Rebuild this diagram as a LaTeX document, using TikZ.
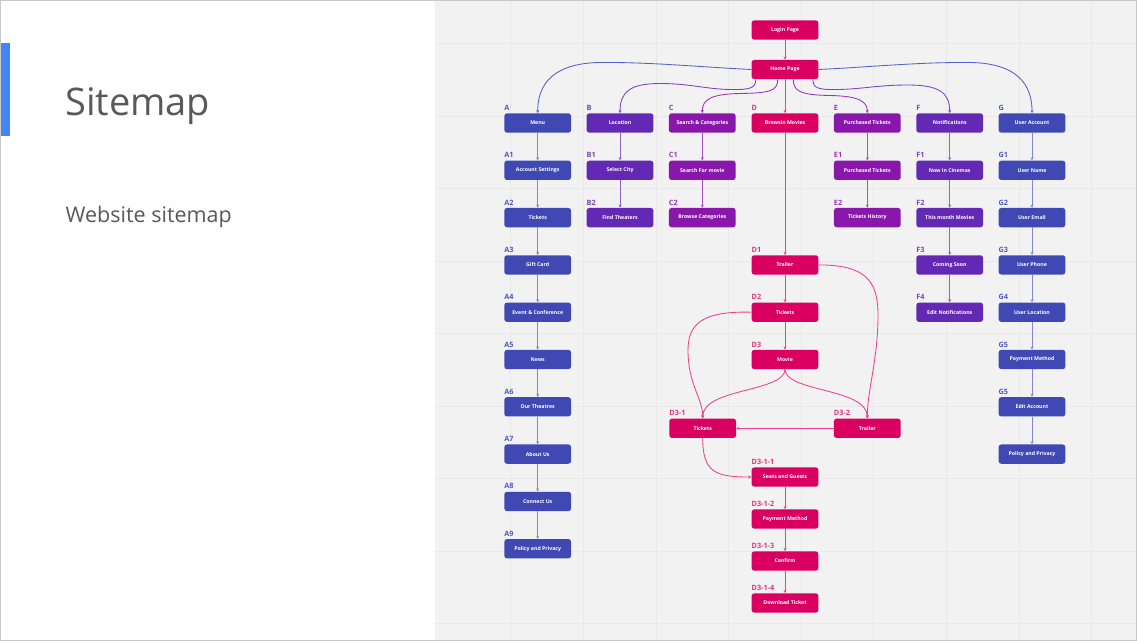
\documentclass[tikz,border=0pt]{standalone}
\usepackage{fontspec}
\setmainfont{Open Sans}
\usetikzlibrary{arrows.meta}
\definecolor{bgG}{HTML}{F2F2F2}
\definecolor{gridC}{HTML}{E8E8E8}
\definecolor{frameC}{HTML}{C8C8C8}
\definecolor{barC}{HTML}{4285F4}
\definecolor{titleC}{HTML}{595959}
\definecolor{cInd}{HTML}{4049B3}
\definecolor{cVio}{HTML}{6429B4}
\definecolor{cPur}{HTML}{8A17AC}
\definecolor{cPnk}{HTML}{D90062}
\definecolor{cIndL}{HTML}{5158BE}
\definecolor{cVioL}{HTML}{7A44C4}
\definecolor{cPurL}{HTML}{9A38BD}
\definecolor{cPnkL}{HTML}{E0357C}
\definecolor{cIndE}{HTML}{8087D2}
\definecolor{cVioE}{HTML}{8D62CC}
\definecolor{cPurE}{HTML}{A650C3}
\definecolor{cPnkE}{HTML}{EE3F8A}
\definecolor{tIndE}{HTML}{5560C6}
\definecolor{tVioE}{HTML}{7B3FC9}
\definecolor{tPurE}{HTML}{A02DC0}
\newcommand{\mkbox}[6]{%
  \node[box,fill=#1] (#2) at (#3,#4) {#5};
  \node[lbl,text=#1L] (#2-l) at (#2.north west) {#6};}
\begin{document}
\begin{tikzpicture}[x=1pt,y=-1pt,
  box/.style={rounded corners=2.6pt, minimum width=66.7pt, minimum height=19.3pt,
    inner sep=0pt, text=white, font=\fontsize{5.2}{6}\selectfont\bfseries},
  lbl/.style={anchor=base west, yshift=2.6pt, inner sep=0pt,
    font=\fontsize{7.3}{8}\selectfont\bfseries},
  arr/.style={-{Stealth[length=3.2pt,width=3pt]}, line width=0.85pt},
  gridline/.style={gridC, line width=0.6pt}]
\useasboundingbox (0,0) rectangle (1137,641);
\fill[white] (0,0) rectangle (1137,641);
\fill[bgG] (434.5,0) rectangle (1137,641);
\foreach \gx in {510.7,583.3,655.9,728.5,801.1,873.7,946.3,1018.9,1091.5}
  \draw[gridline] (\gx,0) -- (\gx,641);
\foreach \gy in {43.3,115.8,188.3,260.8,333.3,405.8,478.3,550.8,623.3}
  \draw[gridline] (434.5,\gy) -- (1137,\gy);
\draw[frameC, line width=1pt] (0.5,0.5) rectangle (1136.5,640.5);
\fill[barC] (1,43) rectangle (9.7,136);
\node[anchor=base west, inner sep=0pt, text=titleC, font=\fontsize{38}{44}\selectfont] (title) at (65,115.5) {Sitemap};
\node[anchor=base west, inner sep=0pt, text=titleC, font=\fontsize{21.5}{25}\selectfont] (subtitle) at (65.5,222.5) {Website sitemap};

% top nodes
\node[box,fill=cPnk] (login) at (785,30) {Login Page};
\node[box,fill=cPnk] (home) at (785,69.5) {Home Page};

% column A
\mkbox{cInd}{a0}{537.7}{123}{Menu}{A}
\mkbox{cInd}{a1}{537.7}{170.3}{Account Settings}{A1}
\mkbox{cInd}{a2}{537.7}{217.6}{Tickets}{A2}
\mkbox{cInd}{a3}{537.7}{264.9}{Gift Card}{A3}
\mkbox{cInd}{a4}{537.7}{312.2}{Event \& Conference}{A4}
\mkbox{cInd}{a5}{537.7}{359.5}{News}{A5}
\mkbox{cInd}{a6}{537.7}{406.8}{Our Theatres}{A6}
\mkbox{cInd}{a7}{537.7}{454.1}{About Us}{A7}
\mkbox{cInd}{a8}{537.7}{501.4}{Connect Us}{A8}
\mkbox{cInd}{a9}{537.7}{548.7}{Policy and Privacy}{A9}
% column B
\mkbox{cVio}{b0}{620}{123}{Location}{B}
\mkbox{cVio}{b1}{620}{170.3}{Select City}{B1}
\mkbox{cVio}{b2}{620}{217.6}{Find Theaters}{B2}
% column C
\mkbox{cPur}{c0}{702.3}{123}{Search \& Categories}{C}
\mkbox{cPur}{c1}{702.3}{170.3}{Search For movie}{C1}
\mkbox{cPur}{c2}{702.3}{217.6}{Browse Categories}{C2}
% column D
\mkbox{cPnk}{d0}{785}{123}{Browsin Movies}{D}
\mkbox{cPnk}{d1}{785}{264.9}{Trailer}{D1}
\mkbox{cPnk}{d2}{785}{312.2}{Tickets}{D2}
\mkbox{cPnk}{d3}{785}{359.5}{Movie}{D3}
\mkbox{cPnk}{d31}{702.7}{428.3}{Tickets}{D3-1}
\mkbox{cPnk}{d32}{867.3}{428.3}{Trailer}{D3-2}
\mkbox{cPnk}{d311}{785}{477}{Seats and Guests}{D3-1-1}
\mkbox{cPnk}{d312}{785}{519}{Payment Method}{D3-1-2}
\mkbox{cPnk}{d313}{785}{561}{Confirm}{D3-1-3}
\mkbox{cPnk}{d314}{785}{603}{Download Ticket}{D3-1-4}
% column E
\mkbox{cPur}{e0}{867.3}{123}{Purchased Tickets}{E}
\mkbox{cPur}{e1}{867.3}{170.3}{Purchased Tickets}{E1}
\mkbox{cPur}{e2}{867.3}{217.6}{Tickets History}{E2}
% column F
\mkbox{cVio}{f0}{949.7}{123}{Notifications}{F}
\mkbox{cVio}{f1}{949.7}{170.3}{Now in Cinemas}{F1}
\mkbox{cVio}{f2}{949.7}{217.6}{This month Movies}{F2}
\mkbox{cVio}{f3}{949.7}{264.9}{Coming Soon}{F3}
\mkbox{cVio}{f4}{949.7}{312.2}{Edit Notifications}{F4}
% column G
\mkbox{cInd}{g0}{1032}{123}{User Account}{G}
\mkbox{cInd}{g1}{1032}{170.3}{User Name}{G1}
\mkbox{cInd}{g2}{1032}{217.6}{User Email}{G2}
\mkbox{cInd}{g3}{1032}{264.9}{User Phone}{G3}
\mkbox{cInd}{g4}{1032}{312.2}{User Location}{G4}
\mkbox{cInd}{g5}{1032}{359.5}{Payment Method}{G5}
\mkbox{cInd}{g6}{1032}{406.8}{Edit Account}{G5}
\node[box,fill=cInd] (g7) at (1032,454.1) {Policy and Privacy};

% top connectors
\draw[arr,cPnkE] (login) -- (home);
\draw[arr,cPnkE] (home) -- (d0);
\draw[arr,tIndE] (home.west) .. controls (700,67) and (650,62) .. (600,62.5)
  .. controls (565,63) and (537.7,75) .. (a0.north);
\draw[arr,tVioE] ([xshift=4.3pt]home.south west) .. controls (756,88) and (750,90) .. (730,89.5)
  .. controls (705,89) and (690,83.5) .. (660,83.5)
  .. controls (630,83.5) and (620,92) .. (b0.north);
\draw[arr,tPurE] ([xshift=-7.3pt]home.south) .. controls (777.7,91) and (770,93) .. (740,93.5)
  .. controls (710,94) and (702.3,100) .. (c0.north);
\draw[arr,tPurE] ([xshift=8.3pt]home.south) .. controls (793.3,91) and (800,95) .. (830,95.5)
  .. controls (860,96) and (867.3,102) .. (e0.north);
\draw[arr,tVioE] ([xshift=-5.6pt]home.south east) .. controls (812.7,88) and (818,90) .. (838,89.5)
  .. controls (863,89) and (878,85) .. (908,85)
  .. controls (938,85) and (949.7,92) .. (f0.north);
\draw[arr,tIndE] (home.east) .. controls (870,67) and (920,62) .. (970,62.5)
  .. controls (1005,63) and (1032,75) .. (g0.north);

% column connectors
\foreach \u/\v in {a0/a1,a1/a2,a2/a3,a3/a4,a4/a5,a5/a6,a6/a7,a7/a8,a8/a9,
  g0/g1,g1/g2,g2/g3,g3/g4,g4/g5,g5/g6,g6/g7}
  \draw[arr,cIndE] (\u) -- (\v);
\foreach \u/\v in {b0/b1,b1/b2,f0/f1,f1/f2,f2/f3,f3/f4}
  \draw[arr,cVioE] (\u) -- (\v);
\foreach \u/\v in {c0/c1,c1/c2,e0/e1,e1/e2}
  \draw[arr,cPurE] (\u) -- (\v);
\foreach \u/\v in {d0/d1,d1/d2,d2/d3,d311/d312,d312/d313,d313/d314}
  \draw[arr,cPnkE] (\u) -- (\v);

% D branch curves
\draw[arr,cPnkE] (d1.east) .. controls (865,265) and (878,280) .. (878,315)
  .. controls (878,360) and (867.3,390) .. (d32.north);
\draw[arr,cPnkE] (d2.west) .. controls (705,311) and (688,322) .. (688,350)
  .. controls (688,385) and (702.7,398) .. (d31.north);
\draw[arr,cPnkE] (d3.south) .. controls (785,392) and (702.7,388) .. (d31.north);
\draw[arr,cPnkE] (d3.south) .. controls (785,392) and (867.3,388) .. (d32.north);
\draw[arr,cPnkE] (d32) -- (d31);
\draw[arr,cPnkE] (d31.south) .. controls (702.7,472) and (715,477) .. (d311.west);
\end{tikzpicture}
\end{document}
